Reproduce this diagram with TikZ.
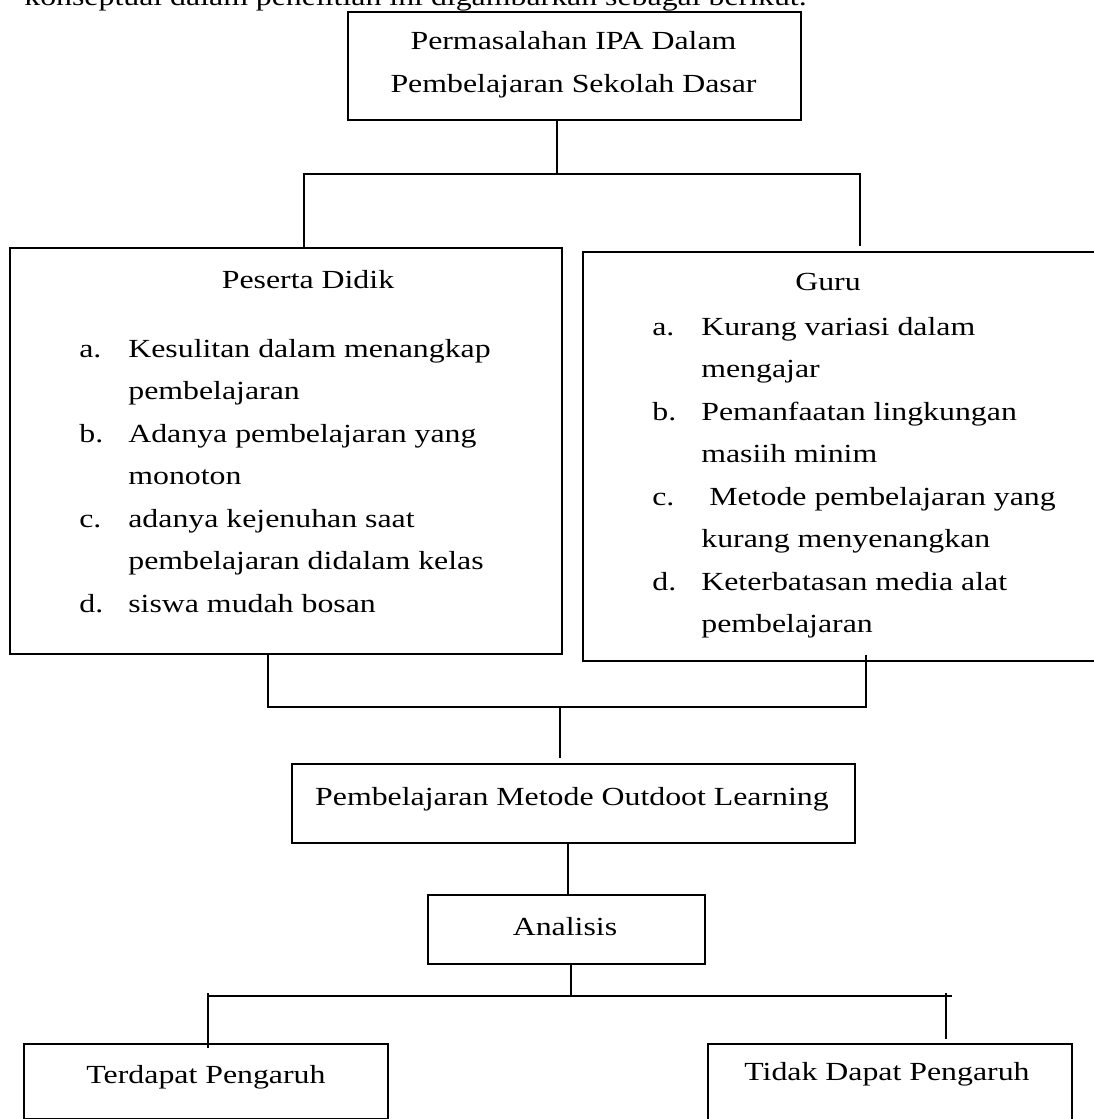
\documentclass[tikz,border=0pt]{standalone}
\usepackage{fontspec}
\setmainfont{Liberation Serif}[FakeStretch=1.22]
\usepackage{array}
\usetikzlibrary{calc}
\tikzset{
  kotak/.style={draw,line width=1pt,inner sep=0pt,anchor=north west},
  garis/.style={line width=0.75pt},
  teks/.style={inner sep=0pt,anchor=base},
  daftar/.style={inner sep=0pt,anchor=base west},
}
\begin{document}
\begin{tikzpicture}[x=0.02cm,y=-0.02cm,font=\fontsize{14.85}{24.2}\selectfont]
  \useasboundingbox (0,0) rectangle (1094,1119);
  \node[teks,anchor=base west] (pengantar) at (24,6)
    {konseptual dalam penelitian ini digambarkan sebagai berikut.};
  % kotak-kotak
  \node[kotak,minimum width=9.06cm,minimum height=2.16cm] (masalah) at (347,11) {};
  \node[teks] (tMasalah) at (573.5,50)
    {\begin{tabular}[t]{@{}c@{}}Permasalahan IPA Dalam\\ Pembelajaran Sekolah Dasar\end{tabular}};
  \node[kotak,minimum width=11.04cm,minimum height=8.12cm] (siswa) at (9,247) {};
  \node[teks] (tSiswa) at (308,288) {Peserta Didik};
  \node[daftar] (lSiswa) at (79,357)
    {\begin{tabular}[t]{@{}w{l}{0.98cm}@{}l@{}}
      a. & Kesulitan dalam menangkap\\ & pembelajaran\\
      b. & Adanya pembelajaran yang\\ & monoton\\
      c. & adanya kejenuhan saat\\ & pembelajaran didalam kelas\\
      d. & siswa mudah bosan
    \end{tabular}};
  \node[kotak,minimum width=10.36cm,minimum height=8.18cm] (guru) at (582,251) {};
  \node[teks] (tGuru) at (828,290) {Guru};
  \node[daftar] (lGuru) at (652,335)
    {\begin{tabular}[t]{@{}w{l}{0.98cm}@{}l@{}}
      a. & Kurang variasi dalam\\ & mengajar\\
      b. & Pemanfaatan lingkungan\\ & masiih minim\\
      c. & \ Metode pembelajaran yang\\ & kurang menyenangkan\\
      d. & Keterbatasan media alat\\ & pembelajaran
    \end{tabular}};
  \node[kotak,minimum width=11.26cm,minimum height=1.58cm] (metode) at (291,763) {};
  \node[teks] (tMetode) at (572,805) {Pembelajaran Metode Outdoot Learning};
  \node[kotak,minimum width=5.54cm,minimum height=1.38cm] (analisis) at (427,894) {};
  \node[teks] (tAnalisis) at (565,935) {Analisis};
  \node[kotak,minimum width=7.28cm,minimum height=1.5cm] (ada) at (23,1043) {};
  \node[teks] (tAda) at (206,1083) {Terdapat Pengaruh};
  \node[kotak,minimum width=7.28cm,minimum height=1.74cm] (tidak) at (707,1043) {};
  \node[teks] (tTidak) at (887,1080) {Tidak Dapat Pengaruh};
  % garis penghubung
  \coordinate (c1) at (557,174);
  \coordinate (c1a) at (304,174);
  \coordinate (c1b) at (860,174);
  \draw[garis] (masalah.south -| c1) -- (c1);
  \draw[garis] (siswa.north -| c1a) -- (c1a) -- (c1b) -- ($(guru.north -| c1b)+(0,-5)$);
  \coordinate (c2) at (560,707);
  \coordinate (c2a) at (268,707);
  \coordinate (c2b) at (866,707);
  \draw[garis] (siswa.south -| c2a) -- (c2a) -- (c2b) -- ($(guru.south -| c2b)+(0,-7)$);
  \draw[garis] (c2) -- ($(metode.north -| c2)+(0,-5)$);
  \coordinate (c3) at (568,870);
  \draw[garis] (metode.south -| c3) -- (analisis.north -| c3);
  \coordinate (c4) at (571,996);
  \coordinate (c4a) at (208,996);
  \coordinate (c4b) at (952,996);
  \coordinate (c4c) at (946,996);
  \draw[garis] (analisis.south -| c4) -- (c4);
  \draw[garis] (c4a) -- (c4b);
  \draw[garis] ($(c4a)+(0,-3)$) -- ($(ada.north -| c4a)+(0,5)$);
  \draw[garis] ($(c4c)+(0,-3)$) -- ($(tidak.north -| c4c)+(0,-4)$);
\end{tikzpicture}
\end{document}
